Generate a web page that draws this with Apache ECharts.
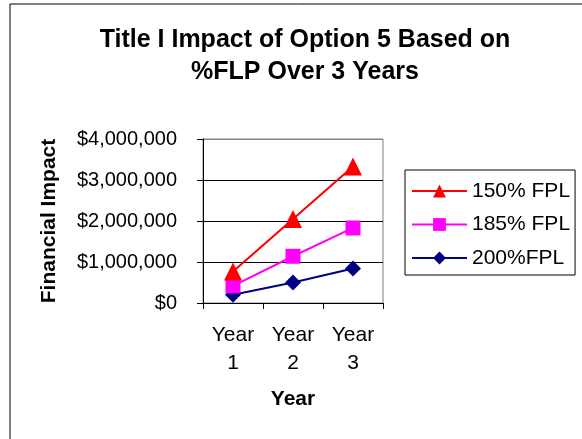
<!DOCTYPE html>
<html>
<head>
<meta charset="utf-8">
<script src="https://cdn.jsdelivr.net/npm/echarts@6/dist/echarts.min.js"></script>
<style>
  html, body { margin: 0; padding: 0; background: #fff; }
  #chart { width: 582px; height: 439px; }
</style>
</head>
<body>
<div id="chart"></div>
<script>
// categories and values
const years = ['Year 1', 'Year 2', 'Year 3'];
const fpl150 = [770000, 2050000, 3330000];
const fpl185 = [420000, 1140000, 1830000];
const fpl200 = [200000, 500000, 840000];
const yTicks = [0, 1000000, 2000000, 3000000, 4000000];

const chart = echarts.init(document.getElementById('chart'));
const font = 'Arial, "Liberation Sans", sans-serif';

const money = v => '$' + v.toLocaleString('en-US');

chart.setOption({
    animation: false,
    textStyle: { fontFamily: font, color: '#000' },
    title: {
        text: 'Title I Impact of Option 5 Based on\n%FLP Over 3 Years',
        left: 300,
        textAlign: 'center',
        top: 19,
        textStyle: { fontSize: 25, fontWeight: 'bold', lineHeight: 32, color: '#000', fontFamily: font }
    },
    graphic: [{
        type: 'rect',
        shape: { x: 10, y: 4, width: 700, height: 600 },
        style: { fill: 'none', stroke: '#000', lineWidth: 1 },
        silent: true
    }],
    legend: {
        orient: 'vertical',
        left: 405,
        top: 170,
        padding: [10, 5, 6, 6],
        itemGap: 11.5,
        itemWidth: 55,
        itemHeight: 16,
        borderColor: '#000',
        borderWidth: 1,
        textStyle: { fontSize: 21, lineHeight: 22, color: '#000', fontFamily: font },
        data: ['150% FPL', '185% FPL', '200%FPL']
    },
    grid: {
        left: 203,
        right: 199,
        top: 139,
        bottom: 136,
        show: true,
        borderColor: '#808080',
        borderWidth: 1
    },
    xAxis: {
        type: 'category',
        data: years,
        boundaryGap: true,
        name: 'Year',
        nameLocation: 'middle',
        nameGap: 86,
        nameTextStyle: { fontSize: 21, fontWeight: 'bold', color: '#000' },
        axisLine: { lineStyle: { color: '#000', width: 1 } },
        axisTick: { show: true, length: 6, lineStyle: { color: '#000' } },
        axisLabel: {
            fontSize: 21,
            color: '#000',
            lineHeight: 28,
            margin: 18,
            formatter: v => v.replace(' ', '\n')
        }
    },
    yAxis: {
        type: 'value',
        min: yTicks[0],
        max: yTicks[yTicks.length - 1],
        interval: 1000000,
        name: 'Financial Impact',
        nameLocation: 'middle',
        nameRotate: 90,
        nameGap: 143,
        nameTextStyle: { fontSize: 21, fontWeight: 'bold', color: '#000' },
        axisLine: { show: true, lineStyle: { color: '#000', width: 1 } },
        axisTick: { show: true, length: 6, lineStyle: { color: '#000' } },
        splitLine: { show: true, lineStyle: { color: ['#808080', '#000', '#000', '#000', '#808080'], width: 1 } },
        axisLabel: { fontSize: 20, color: '#000', margin: 26, formatter: money }
    },
    series: [
        {
            name: '150% FPL',
            type: 'line',
            data: fpl150,
            symbol: 'triangle',
            symbolSize: 18,
            color: '#ff0000',
            lineStyle: { width: 2, color: '#ff0000' },
            itemStyle: { color: '#ff0000' },
            z: 4
        },
        {
            name: '185% FPL',
            type: 'line',
            data: fpl185,
            symbol: 'rect',
            symbolSize: 15,
            color: '#ff00ff',
            lineStyle: { width: 2, color: '#ff00ff' },
            itemStyle: { color: '#ff00ff' },
            z: 3
        },
        {
            name: '200%FPL',
            type: 'line',
            data: fpl200,
            symbol: 'diamond',
            symbolSize: 16,
            color: '#000080',
            lineStyle: { width: 2, color: '#000080' },
            itemStyle: { color: '#000080' },
            z: 2
        }
    ]
});
</script>
</body>
</html>
